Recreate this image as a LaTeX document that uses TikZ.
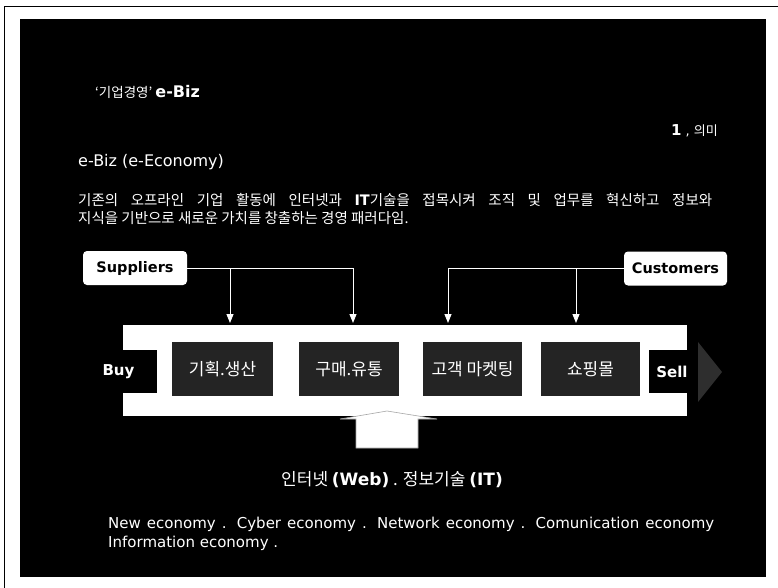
\documentclass[tikz,border=0pt]{standalone}
\usepackage{fontspec}
\setmainfont{DejaVu Sans}
\newfontfamily\kr{Noto Sans CJK KR}
\usetikzlibrary{arrows.meta}
\begin{document}
\begin{tikzpicture}[x=1pt,y=-1pt,
  lbl/.style={inner sep=0pt, text=white},
  actor/.style={fill=white, rounded corners=4pt, minimum width=104pt, minimum height=34pt, inner sep=0pt, font=\fontsize{14.5}{14.5}\selectfont\bfseries, text=black},
  stage/.style={fill=black!86, minimum height=54pt, inner sep=0pt, font=\kr\fontsize{17}{17}\selectfont, text=white},
  endbox/.style={fill=black, minimum height=43pt, inner sep=0pt, font=\fontsize{15}{15}\selectfont\bfseries, text=white},
  flow/.style={draw=white, line width=0.9pt, -{Triangle[width=7pt,length=9pt]}},
]
\useasboundingbox (0,0) rectangle (778,588);
\fill[white] (0,0) rectangle (778,588);
\draw[line width=0.8pt] (4,588) -- (4,6) -- (778,6);
\fill[black] (20,19) rectangle (766,577);

% header texts
\node[lbl, anchor=west, font=\kr\fontsize{13.5}{13.5}\selectfont] (title) at (95,92) {‘기업경영’ {\normalfont\bfseries\fontsize{16}{16}\selectfont e-Biz}};
\node[lbl, anchor=east] (sec) at (718,131) {{\bfseries\fontsize{15}{15}\selectfont 1}\fontsize{13}{13}\selectfont\ , {\kr 의미}};
\node[lbl, anchor=west, font=\fontsize{16}{16}\selectfont] (head) at (78,162) {e-Biz (e-Economy)};
\node[lbl, anchor=west, font=\kr\fontsize{14.5}{15}\selectfont] (p1) at (78,200) {\makebox[634pt][s]{기존의 오프라인 기업 활동에 인터넷과 {\normalfont\bfseries IT}기술을 접목시켜 조직 및 업무를 혁신하고 정보와}};
\node[lbl, anchor=west, font=\kr\fontsize{14.5}{15}\selectfont] (p2) at (78,218) {지식을 기반으로 새로운 가치를 창출하는 경영 패러다임.};

% band
\node[fill=white, minimum width=564pt, minimum height=91pt, inner sep=0pt] (band) at (405,370.5) {};
\node[endbox, minimum width=77pt] (buy) at (118.5,371.5) {Buy};
\node[endbox, minimum width=46pt] (sell) at (672,371.5) {Sell};
\fill[black!82] (698,342) -- (722,372) -- (698,402) -- cycle;

\node[stage, minimum width=101pt] (b1) at (222.5,369) {기획.생산};
\node[stage, minimum width=100pt] (b2) at (349,369) {구매.유통};
\node[stage, minimum width=99pt] (b3) at (472.5,369) {고객 마켓팅};
\node[stage, minimum width=99pt] (b4) at (590.5,369) {쇼핑몰};

% actors
\node[actor] (sup) at (135,268) {Suppliers};
\node[actor, minimum width=103pt] (cus) at (675.5,268.5) {Customers};

\coordinate (t1) at (230,323);
\coordinate (t2) at (353,323);
\coordinate (t3) at (448,323);
\coordinate (t4) at (576,323);
\draw[flow] (sup.east) -| (t2);
\draw[flow] (sup.east -| t1) -- (t1);
\draw[flow] (cus.west) -| (t3);
\draw[flow] (cus.west -| t4) -- (t4);

% up arrow
\draw[fill=white, draw=gray!70, line width=0.6pt] (356,448) -- (356,419) -- (340,419) -- (387,411) -- (437,419) -- (418,419) -- (418,448) -- cycle;

% footer texts
\node[lbl, font=\kr\fontsize{17}{17}\selectfont] (web) at (392,480) {인터넷 {\normalfont\bfseries (Web)} . 정보기술 {\normalfont\bfseries (IT)}};
\node[lbl, anchor=west, font=\fontsize{15}{15}\selectfont] (eco1) at (108,524) {\makebox[606pt][s]{New economy . Cyber economy . Network economy . Comunication economy}};
\node[lbl, anchor=west, font=\fontsize{15}{15}\selectfont] (eco2) at (108,543) {Information economy .};
\end{tikzpicture}
\end{document}
